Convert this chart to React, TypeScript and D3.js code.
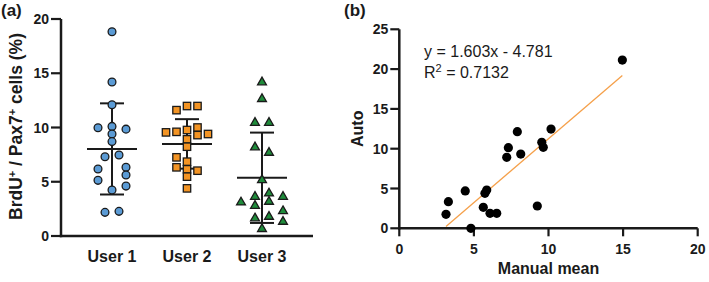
import React from "react";
import * as d3 from "d3";

// ---------- Data: panel (a) ----------
const categories = ["User 1", "User 2", "User 3"];
const user1Values = [18.83, 14.2, 12.1, 9.98, 10.1, 9.85, 9.4, 8.7, 7.3, 7.47, 6.17, 6.33, 5.62, 5.13, 4.6, 4.24, 2.18, 2.27];
const user1Slots = [0, 0, 0, -4, 0, 4, 0, 0, -2, 2, -4, 4, 4, -4, 4, 0, -2, 2];
const user2Values = [11.6, 11.98, 11.98, 9.55, 9.6, 9.77, 10.0, 9.3, 9.4, 8.91, 8.23, 7.25, 6.33, 6.85, 6.15, 6.02, 5.47, 4.39];
const user2Slots = [-3, 0, 3, -6, -3, 0, 3, 3, 6, 0, 0, -3, -3, 0, 0, 3, 0, 0];
const user3Values = [14.17, 12.63, 10.44, 10.44, 8.18, 7.68, 5.16, 3.1, 3.62, 2.79, 3.93, 3.16, 3.62, 2.3, 1.63, 1.78, 1.32, 0.65];
const user3Slots = [0, 0, -2, 2, -2, 2, 0, -6, -2, -2, 2, 2, 6, 6, -2, 2, 6, 0];
const leftYTicks = [0, 5, 10, 15, 20];

// ---------- Data: panel (b) ----------
const manualMean = [14.95, 3.13, 3.29, 4.42, 4.8, 5.63, 5.74, 5.86, 6.08, 6.53, 7.2, 7.31, 7.91, 8.14, 9.25, 9.55, 9.65, 10.17];
const autoValues = [21.14, 1.76, 3.34, 4.69, 0.0, 2.64, 4.4, 4.81, 1.88, 1.88, 8.92, 10.13, 12.14, 9.33, 2.8, 10.8, 10.17, 12.47];
const fitSlope = 1.603;
const fitIntercept = -4.781;
const fitR2 = "0.7132";
const rightXTicks = [0, 5, 10, 15, 20];
const rightYTicks = [0, 5, 10, 15, 20, 25];

const FONT = "'Liberation Sans', Arial, Helvetica, sans-serif";
const AX = "#1a1a1a";

export default function App() {
  // Panel (a) scales
  const xA = d3.scalePoint<string>().domain(categories).range([61, 313]).padding(0.68);
  const yA = d3.scaleLinear().domain([0, 20]).range([236, 19]);
  const slotW = 3.5;

  const groups = [
    { name: categories[0], values: user1Values, slots: user1Slots, shape: "circle", fill: "#5b9bd5" },
    { name: categories[1], values: user2Values, slots: user2Slots, shape: "square", fill: "#f39424" },
    { name: categories[2], values: user3Values, slots: user3Slots, shape: "triangle", fill: "#1f8c3b" },
  ];

  // Panel (b) scales
  const xB = d3.scaleLinear().domain([0, 20]).range([399.3, 697.7]);
  const yB = d3.scaleLinear().domain([0, 25]).range([228.3, 29.3]);
  const [xMin, xMax] = d3.extent(manualMean) as [number, number];
  const fitLine = d3.line<number>()
    .x((d) => xB(d))
    .y((d) => yB(fitSlope * d + fitIntercept));

  const triPath = d3.symbol().type(d3.symbolTriangle).size(34)();

  return (
    <svg width={709} height={282} style={{ position: "absolute", left: 0, top: 0, background: "#fff" }} fontFamily={FONT}>
      <rect width={709} height={282} fill="#fff" />
      {/* ===== Panel (a) ===== */}
      <text x={1} y={16} fontSize={17} fontWeight="bold" fill={AX}>(a)</text>
      <text
        transform={`translate(22,${(yA(0) + yA(20)) / 2 - 1}) rotate(-90)`}
        textAnchor="middle"
        fontSize={17.5}
        fontWeight="bold"
        fill={AX}
      >
        BrdU<tspan dy={-6} fontSize={11}>+</tspan>
        <tspan dy={6}> / Pax7</tspan>
        <tspan dy={-6} fontSize={11}>+</tspan>
        <tspan dy={6}> cells (%)</tspan>
      </text>
      {/* y axis */}
      <line x1={61} x2={61} y1={yA(20)} y2={yA(0) + 1.2} stroke={AX} strokeWidth={2.5} />
      {leftYTicks.map((t) => (
        <g key={t}>
          <line x1={51} x2={61} y1={yA(t)} y2={yA(t)} stroke={AX} strokeWidth={2.2} />
          <text x={49} y={yA(t)} dy="0.36em" textAnchor="end" fontSize={14} fontWeight="bold" fill={AX}>{t}</text>
        </g>
      ))}
      {/* x axis */}
      <line x1={59.8} x2={313} y1={yA(0)} y2={yA(0)} stroke={AX} strokeWidth={2.5} />
      {categories.map((c) => (
        <text key={c} x={xA(c)} y={262} textAnchor="middle" fontSize={16} fontWeight="bold" fill={AX}>{c}</text>
      ))}
      {groups.map((g) => {
        const cx = xA(g.name) as number;
        const m = d3.mean(g.values) as number;
        const sd = d3.deviation(g.values) as number;
        return (
          <g key={g.name}>
            <line x1={cx} x2={cx} y1={yA(m + sd)} y2={yA(m - sd)} stroke={AX} strokeWidth={2} />
            <line x1={cx - 12} x2={cx + 12} y1={yA(m + sd)} y2={yA(m + sd)} stroke={AX} strokeWidth={2} />
            <line x1={cx - 12} x2={cx + 12} y1={yA(m - sd)} y2={yA(m - sd)} stroke={AX} strokeWidth={2} />
            <line x1={cx - 25} x2={cx + 25} y1={yA(m)} y2={yA(m)} stroke={AX} strokeWidth={2} />
            {g.values.map((v, i) => {
              const px = cx + g.slots[i] * slotW;
              const py = yA(v);
              if (g.shape === "circle")
                return <circle key={i} cx={px} cy={py} r={3.9} fill={g.fill} stroke={AX} strokeWidth={1.3} />;
              if (g.shape === "square")
                return <rect key={i} x={px - 3.7} y={py - 3.7} width={7.4} height={7.4} fill={g.fill} stroke={AX} strokeWidth={1.3} />;
              return <path key={i} d={triPath as string} transform={`translate(${px},${py})`} fill={g.fill} stroke={AX} strokeWidth={1.3} />;
            })}
          </g>
        );
      })}

      {/* ===== Panel (b) ===== */}
      <text x={344} y={16} fontSize={17} fontWeight="bold" fill={AX}>(b)</text>
      <text
        transform={`translate(363,${(yB(0) + yB(25)) / 2}) rotate(-90)`}
        textAnchor="middle"
        fontSize={16}
        fontWeight="bold"
        fill={AX}
      >
        Auto
      </text>
      <text x={(xB(0) + xB(20)) / 2} y={274} textAnchor="middle" fontSize={16} fontWeight="bold" fill={AX}>Manual mean</text>
      {/* axes */}
      <line x1={xB(0)} x2={xB(0)} y1={yB(25)} y2={yB(0) + 1.2} stroke={AX} strokeWidth={2.5} />
      <line x1={xB(0) - 1.2} x2={xB(20)} y1={yB(0)} y2={yB(0)} stroke={AX} strokeWidth={2.5} />
      {rightYTicks.map((t) => (
        <g key={"y" + t}>
          <line x1={xB(0) - 9} x2={xB(0)} y1={yB(t)} y2={yB(t)} stroke={AX} strokeWidth={2.2} />
          <text x={xB(0) - 11} y={yB(t)} dy="0.36em" textAnchor="end" fontSize={14} fontWeight="bold" fill={AX}>{t}</text>
        </g>
      ))}
      {rightXTicks.map((t) => (
        <g key={"x" + t}>
          <line x1={xB(t)} x2={xB(t)} y1={yB(0)} y2={yB(0) + 8} stroke={AX} strokeWidth={2.2} />
          <text x={xB(t)} y={254} textAnchor="middle" fontSize={14} fontWeight="bold" fill={AX}>{t}</text>
        </g>
      ))}
      <text x={424} y={57} fontSize={16} fill={AX}>
        y = {fitSlope}x - {Math.abs(fitIntercept)}
      </text>
      <text x={424} y={77.5} fontSize={16} fill={AX}>
        R<tspan dy={-6} fontSize={11}>2</tspan>
        <tspan dy={6}> = {fitR2}</tspan>
      </text>
      <path d={fitLine([xMin, xMax]) as string} fill="none" stroke="#f5a04a" strokeWidth={1.3} />
      {manualMean.map((x, i) => (
        <circle key={i} cx={xB(x)} cy={yB(autoValues[i])} r={4.6} fill="#000" />
      ))}
    </svg>
  );
}
